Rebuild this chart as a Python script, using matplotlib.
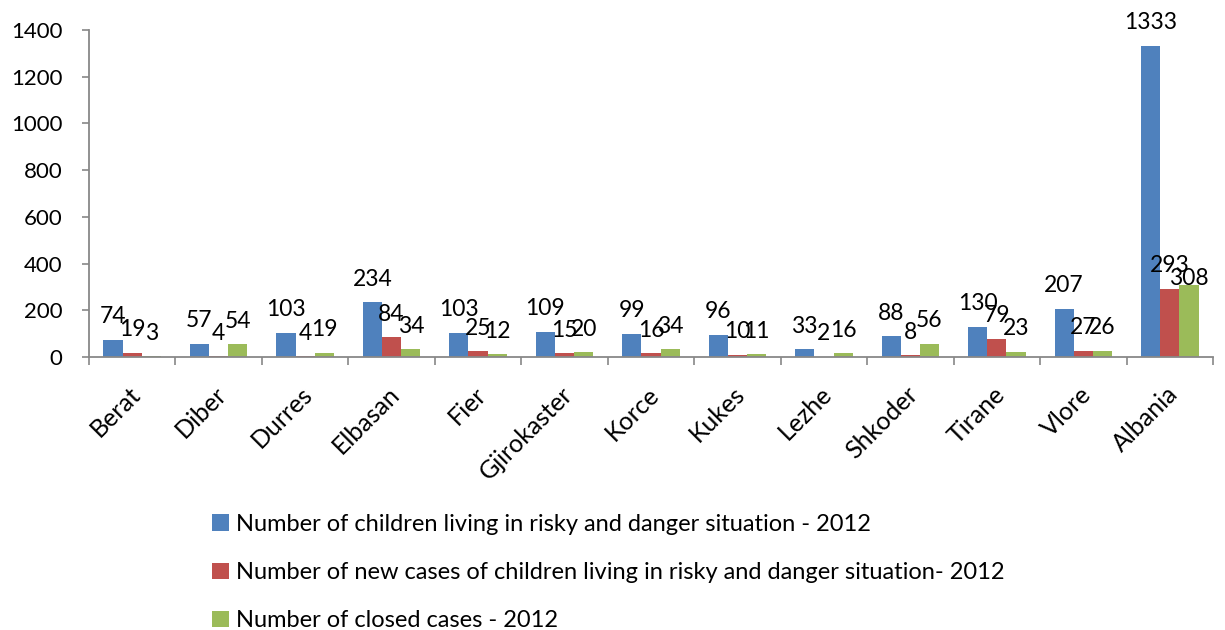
import matplotlib
matplotlib.use("Agg")
import matplotlib.pyplot as plt
import numpy as np
from matplotlib.ticker import FixedLocator
from matplotlib.transforms import ScaledTranslation

categories = ["Berat", "Diber", "Durres", "Elbasan", "Fier", "Gjirokaster", "Korce",
              "Kukes", "Lezhe", "Shkoder", "Tirane", "Vlore", "Albania"]
children = [74, 57, 103, 234, 103, 109, 99, 96, 33, 88, 130, 207, 1333]
new_cases = [19, 4, 4, 84, 25, 15, 16, 10, 2, 8, 79, 27, 293]
closed = [3, 54, 19, 34, 12, 20, 34, 11, 16, 56, 23, 26, 308]
series_names = ["Number of children living in risky and danger situation - 2012",
                "Number of new cases of children living in risky and danger situation- 2012",
                "Number of closed cases - 2012"]
colors = ["#4F81BD", "#C0504D", "#9BBB59"]

plt.rcParams['font.family'] = ['Lato', 'DejaVu Sans']

fig = plt.figure(figsize=(12.25, 6.3), dpi=100)
ax = fig.add_axes([89 / 1225, 1 - 357 / 630, 1124 / 1225, 327 / 630])

x = np.arange(len(categories))
w = 0.222
for i, (vals, c, name) in enumerate(zip([children, new_cases, closed], colors, series_names)):
    bars = ax.bar(x + (i - 1) * w, vals, width=w, color=c, label=name, zorder=2)
    anns = ax.bar_label(bars, labels=[str(v) for v in vals], padding=9, fontsize=16.5, color="black")
    if i == 2:
        anns[-1].xyann = (0, -3)

ax.set_xlim(-0.5, len(categories) - 0.5)
ax.set_ylim(0, 1400)
ax.set_yticks(range(0, 1401, 200))
ax.tick_params(axis='y', labelsize=16, length=5, width=1.2, color="#888888", pad=14)
ax.set_xticks(x)
ax.set_xticklabels(categories, rotation=45, ha='right', va='center',
                   rotation_mode='anchor', fontsize=18)
ax.tick_params(axis='x', length=0, pad=24)
offset = ScaledTranslation(4 / 100, 0, fig.dpi_scale_trans)
for lab in ax.get_xticklabels():
    lab.set_transform(lab.get_transform() + offset)
ax.xaxis.set_minor_locator(FixedLocator(np.arange(-0.5, len(categories), 1.0)))
ax.tick_params(axis='x', which='minor', length=6, width=1.2, color="#888888")

for s in ["top", "right"]:
    ax.spines[s].set_visible(False)
for s in ["left", "bottom"]:
    ax.spines[s].set_color("#888888")
    ax.spines[s].set_linewidth(1.3)

handles, labels = ax.get_legend_handles_labels()
fig.legend(handles, labels, loc="upper left", bbox_to_anchor=(212 / 1225, 1 - 514 / 630),
           frameon=False, fontsize=17, handlelength=0.72, handleheight=0.7,
           handletextpad=0.3, labelspacing=1.15, borderpad=0, borderaxespad=0)

fig.savefig("out.png", dpi=100)
